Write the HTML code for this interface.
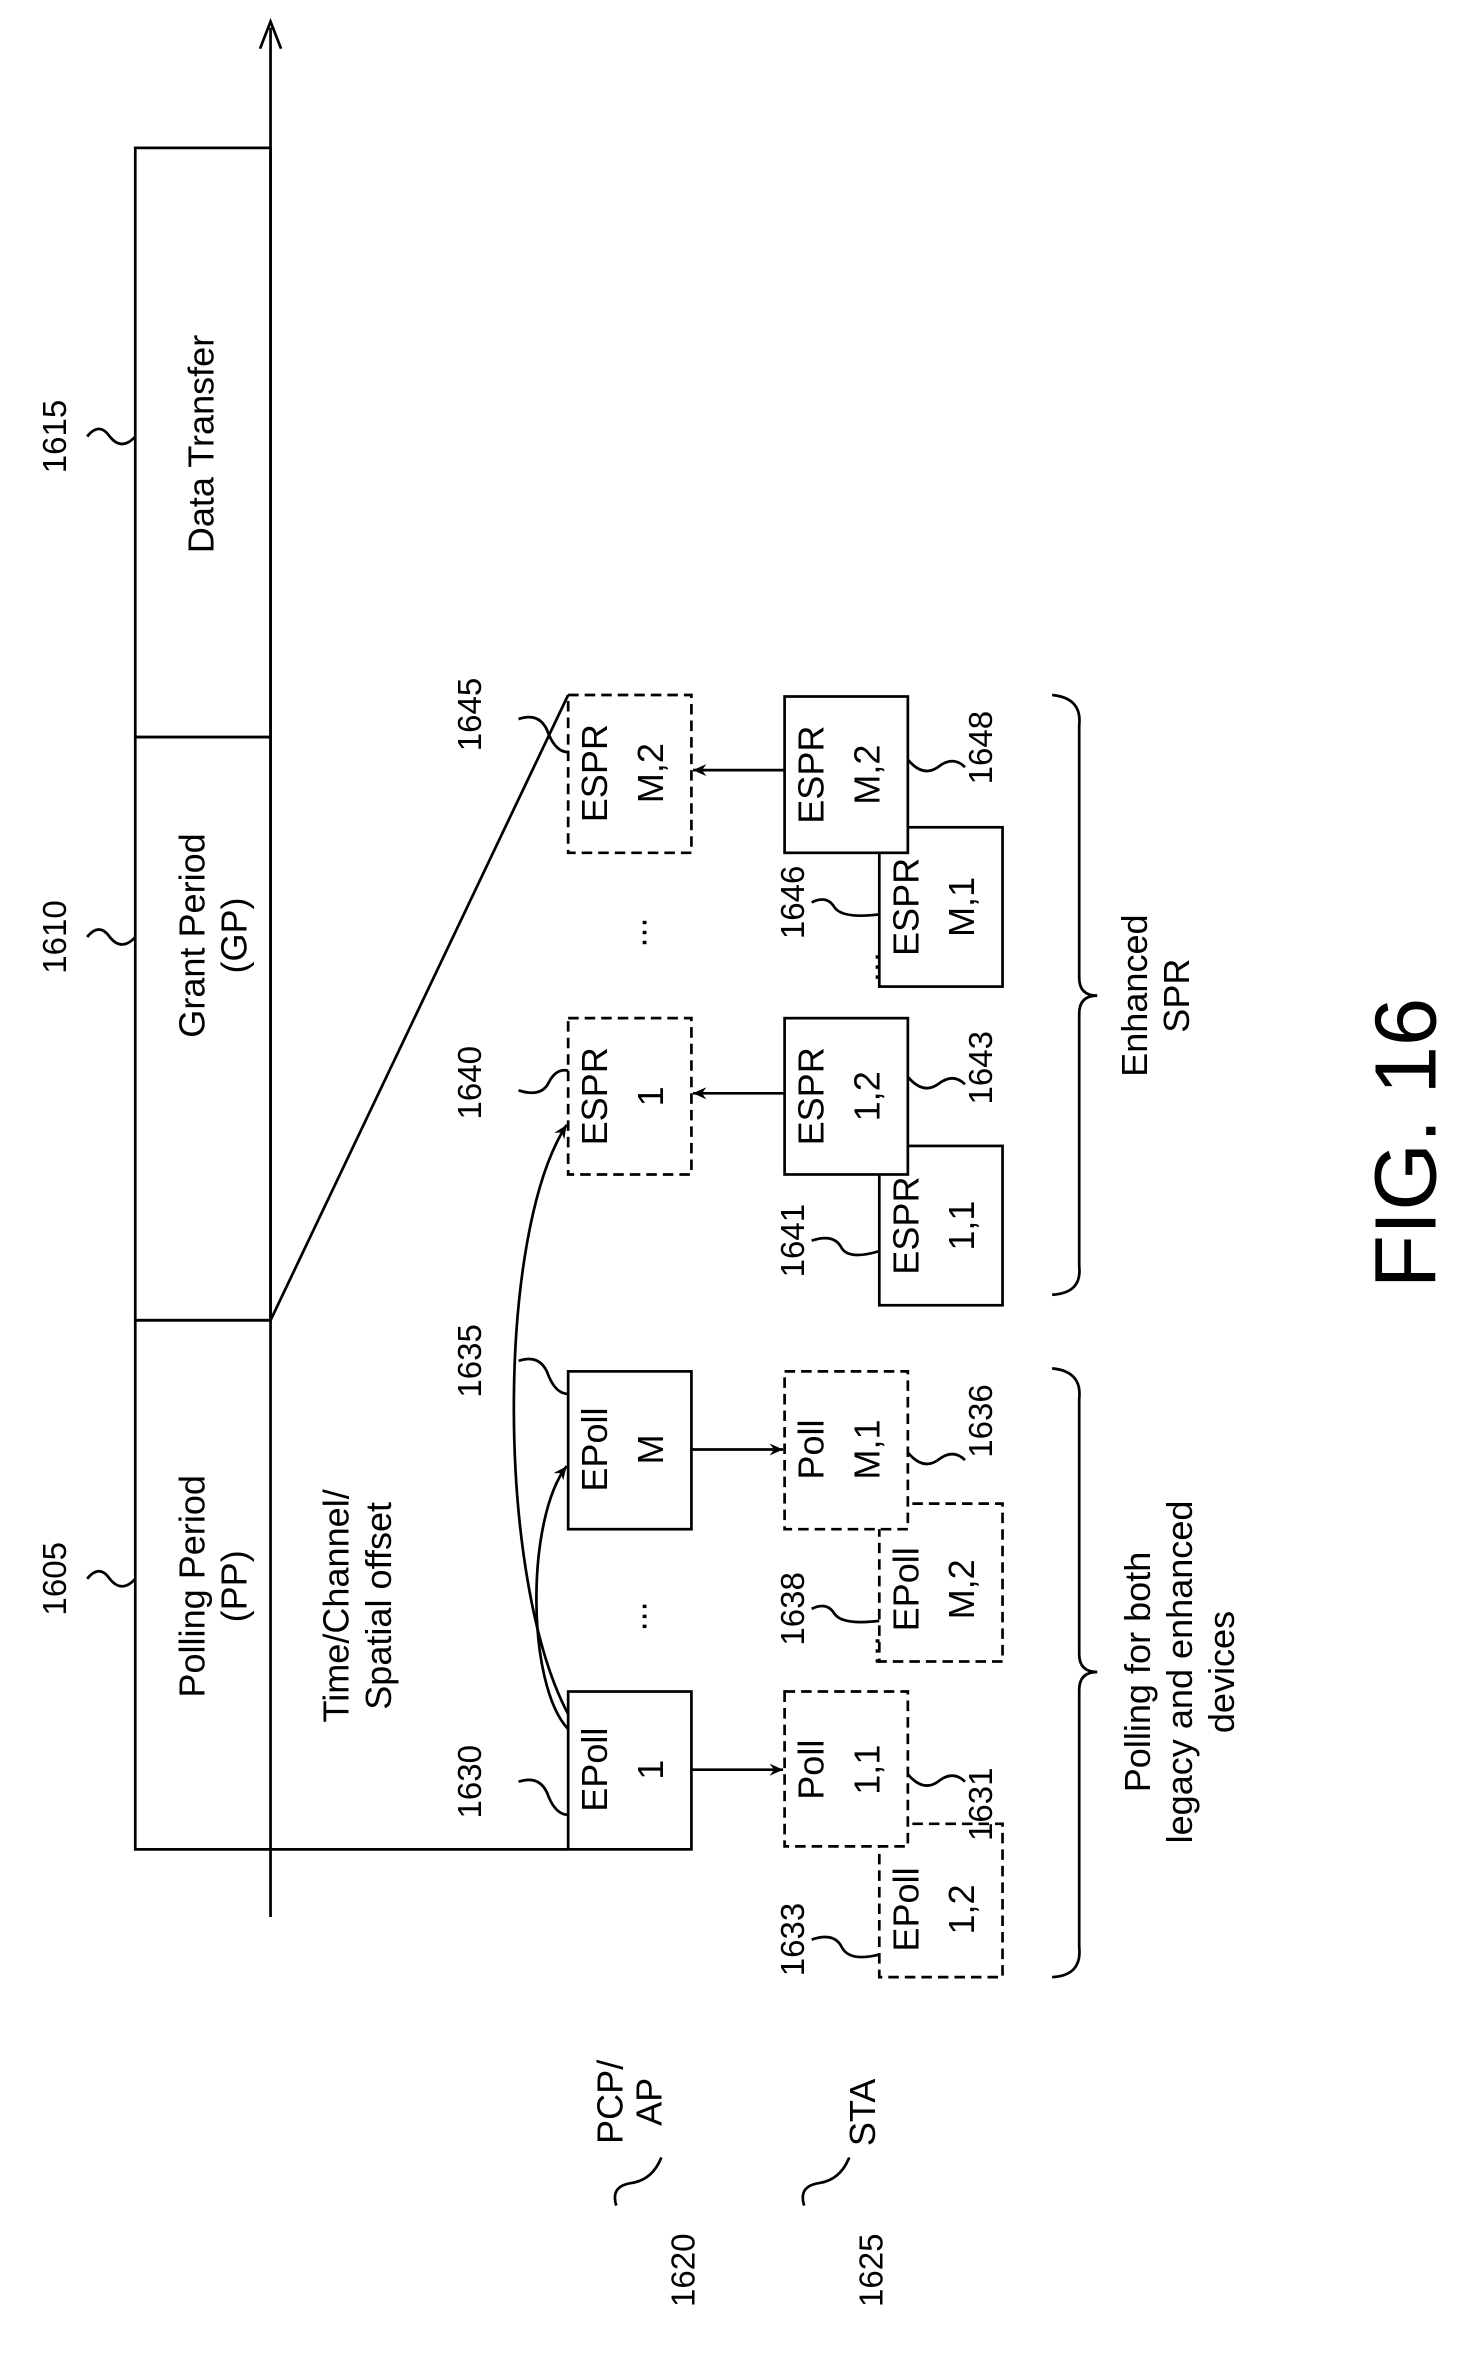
<!DOCTYPE html>
<html><head><meta charset="utf-8"><style>html,body{margin:0;padding:0;background:#fff}svg{display:block}text{font-family:"Liberation Sans",sans-serif;fill:#000}</style></head>
<body>
<svg width="1473" height="2373" viewBox="0 0 980 1578" xmlns="http://www.w3.org/2000/svg">
<defs><marker id="a" markerWidth="10" markerHeight="10" refX="9" refY="5" orient="auto" markerUnits="userSpaceOnUse"><path d="M0,1 L9,5 L0,9 L3,5 Z" fill="#000"/></marker></defs>
<g stroke="#000" stroke-width="1.8" fill="none">
<line x1="180" y1="1275" x2="180" y2="18"/>
<path d="M173,32 L180,14 L187,32" />
<rect x="90" y="98" width="90" height="392"/>
<rect x="90" y="490" width="90" height="388"/>
<path d="M180,878 L90,878 L90,1230 L378,1230"/>
<line x1="180" y1="878" x2="378" y2="462"/>
<rect x="378" y="1125" width="82" height="105"/>
<rect x="378" y="912" width="82" height="105"/>
<rect x="585" y="762" width="82" height="106"/>
<rect x="522" y="677" width="82" height="104" fill="#fff"/>
<rect x="585" y="550" width="82" height="106"/>
<rect x="522" y="463" width="82" height="104" fill="#fff"/>
<g stroke-dasharray="7,4">
<rect x="378" y="677" width="82" height="104"/>
<rect x="378" y="462" width="82" height="105"/>
<rect x="585" y="1213" width="82" height="102"/>
<rect x="522" y="1125" width="82" height="103" fill="#fff"/>
<rect x="585" y="1000" width="82" height="105"/>
<rect x="522" y="912" width="82" height="105" fill="#fff"/>
</g>
<line x1="460" y1="1177" x2="521" y2="1177" marker-end="url(#a)"/>
<line x1="460" y1="964" x2="521" y2="964" marker-end="url(#a)"/>
<line x1="522" y1="727" x2="461" y2="727" marker-end="url(#a)"/>
<line x1="522" y1="512" x2="461" y2="512" marker-end="url(#a)"/>
<path d="M378,1150 C350,1120 350,1010 377,975" marker-end="url(#a)"/>
<path d="M378,1140 C330,1050 330,820 377,748" marker-end="url(#a)"/>
<path d="M700,910 Q720,912 718,930 L718,1100 Q718,1112 730,1112 Q718,1112 718,1124 L718,1295 Q720,1314 700,1315"/>
<path d="M700,462 Q720,464 718,482 L718,650 Q718,662 730,662 Q718,662 718,674 L718,842 Q720,860 700,861"/>
<path d="M58,1050 q8,-10 15,0 q8,10 17,0"/>
<path d="M58,623 q8,-10 15,0 q8,10 17,0"/>
<path d="M58,290 q8,-10 15,0 q8,10 17,0"/>
<path d="M345,1185 q15,-5 20,10 q5,12 13,12"/>
<path d="M345,905 q15,-5 20,10 q5,12 13,12"/>
<path d="M345,725 q15,5 20,-5 q5,-10 13,-8"/>
<path d="M345,478 q15,-5 20,10 q5,12 13,12"/>
<path d="M540,1290 q15,-5 20,5 q5,10 25,5"/>
<path d="M540,1070 q10,-5 15,3 q5,8 30,5"/>
<path d="M540,825 q15,-5 20,5 q5,8 25,2"/>
<path d="M540,600 q10,-5 15,3 q5,8 30,5"/>
<path d="M604,1180 q10,12 20,5 q10,-8 18,0"/>
<path d="M604,966 q10,12 20,5 q10,-8 18,0"/>
<path d="M604,716 q10,12 20,5 q10,-8 18,0"/>
<path d="M604,505 q10,12 20,5 q10,-8 18,0"/>
<path d="M440,1435 q-6,15 -20,17 q-14,2 -10,15"/>
<path d="M565,1435 q-6,15 -20,17 q-14,2 -10,15"/>
</g>
<g font-size="24">
<text transform="translate(136,1055) rotate(-90)" text-anchor="middle">Polling Period</text>
<text transform="translate(164,1055) rotate(-90)" text-anchor="middle">(PP)</text>
<text transform="translate(136,622) rotate(-90)" text-anchor="middle">Grant Period</text>
<text transform="translate(164,622) rotate(-90)" text-anchor="middle">(GP)</text>
<text transform="translate(142,295) rotate(-90)" text-anchor="middle">Data Transfer</text>
<text transform="translate(232,1068) rotate(-90)" text-anchor="middle">Time/Channel/</text>
<text transform="translate(260,1068) rotate(-90)" text-anchor="middle">Spatial offset</text>
<text transform="translate(404,1177) rotate(-90)" text-anchor="middle">EPoll</text>
<text transform="translate(441,1177) rotate(-90)" text-anchor="middle">1</text>
<text transform="translate(404,964) rotate(-90)" text-anchor="middle">EPoll</text>
<text transform="translate(441,964) rotate(-90)" text-anchor="middle">M</text>
<text transform="translate(404,729) rotate(-90)" text-anchor="middle">ESPR</text>
<text transform="translate(441,729) rotate(-90)" text-anchor="middle">1</text>
<text transform="translate(404,514) rotate(-90)" text-anchor="middle">ESPR</text>
<text transform="translate(441,514) rotate(-90)" text-anchor="middle">M,2</text>
<text transform="translate(548,1177) rotate(-90)" text-anchor="middle">Poll</text>
<text transform="translate(585,1177) rotate(-90)" text-anchor="middle">1,1</text>
<text transform="translate(611,1270) rotate(-90)" text-anchor="middle">EPoll</text>
<text transform="translate(648,1270) rotate(-90)" text-anchor="middle">1,2</text>
<text transform="translate(548,964) rotate(-90)" text-anchor="middle">Poll</text>
<text transform="translate(585,964) rotate(-90)" text-anchor="middle">M,1</text>
<text transform="translate(611,1057) rotate(-90)" text-anchor="middle">EPoll</text>
<text transform="translate(648,1057) rotate(-90)" text-anchor="middle">M,2</text>
<text transform="translate(548,729) rotate(-90)" text-anchor="middle">ESPR</text>
<text transform="translate(585,729) rotate(-90)" text-anchor="middle">1,2</text>
<text transform="translate(611,815) rotate(-90)" text-anchor="middle">ESPR</text>
<text transform="translate(648,815) rotate(-90)" text-anchor="middle">1,1</text>
<text transform="translate(548,515) rotate(-90)" text-anchor="middle">ESPR</text>
<text transform="translate(585,515) rotate(-90)" text-anchor="middle">M,2</text>
<text transform="translate(611,603) rotate(-90)" text-anchor="middle">ESPR</text>
<text transform="translate(648,603) rotate(-90)" text-anchor="middle">M,1</text>
<text transform="translate(430,1075) rotate(-90)" text-anchor="middle">...</text>
<text transform="translate(430,620) rotate(-90)" text-anchor="middle">...</text>
<text transform="translate(585,1098) rotate(-90)" text-anchor="middle">...</text>
<text transform="translate(585,643) rotate(-90)" text-anchor="middle">...</text>
<text transform="translate(765,1112) rotate(-90)" text-anchor="middle">Polling for both</text>
<text transform="translate(793,1112) rotate(-90)" text-anchor="middle">legacy and enhanced</text>
<text transform="translate(821,1112) rotate(-90)" text-anchor="middle">devices</text>
<text transform="translate(763,662) rotate(-90)" text-anchor="middle">Enhanced</text>
<text transform="translate(791,662) rotate(-90)" text-anchor="middle">SPR</text>
<text transform="translate(414,1398) rotate(-90)" text-anchor="middle">PCP/</text>
<text transform="translate(440,1398) rotate(-90)" text-anchor="middle">AP</text>
<text transform="translate(582,1405) rotate(-90)" text-anchor="middle">STA</text>
</g>
<g font-size="22">
<text transform="translate(44,1050) rotate(-90)" text-anchor="middle">1605</text>
<text transform="translate(44,623) rotate(-90)" text-anchor="middle">1610</text>
<text transform="translate(44,290) rotate(-90)" text-anchor="middle">1615</text>
<text transform="translate(320,1185) rotate(-90)" text-anchor="middle">1630</text>
<text transform="translate(320,905) rotate(-90)" text-anchor="middle">1635</text>
<text transform="translate(320,720) rotate(-90)" text-anchor="middle">1640</text>
<text transform="translate(320,475) rotate(-90)" text-anchor="middle">1645</text>
<text transform="translate(535,1290) rotate(-90)" text-anchor="middle">1633</text>
<text transform="translate(535,1070) rotate(-90)" text-anchor="middle">1638</text>
<text transform="translate(535,825) rotate(-90)" text-anchor="middle">1641</text>
<text transform="translate(535,600) rotate(-90)" text-anchor="middle">1646</text>
<text transform="translate(660,1200) rotate(-90)" text-anchor="middle">1631</text>
<text transform="translate(660,945) rotate(-90)" text-anchor="middle">1636</text>
<text transform="translate(660,710) rotate(-90)" text-anchor="middle">1643</text>
<text transform="translate(660,497) rotate(-90)" text-anchor="middle">1648</text>
<text transform="translate(462,1510) rotate(-90)" text-anchor="middle">1620</text>
<text transform="translate(587,1510) rotate(-90)" text-anchor="middle">1625</text>
</g>
<text transform="translate(955,760) rotate(-90)" text-anchor="middle" font-size="58">FIG. 16</text>
</svg>
</body></html>
